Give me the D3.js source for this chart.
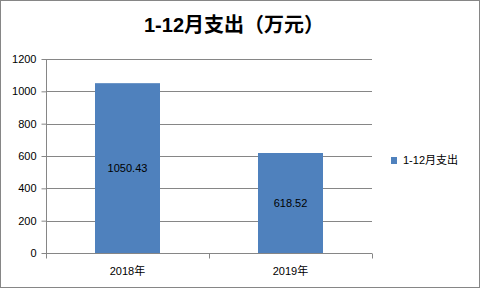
<!DOCTYPE html>
<html>
<head>
<meta charset="utf-8">
<script src="https://cdn.jsdelivr.net/npm/d3@7"></script>
<style>
  body { margin: 0; background: #fff; }
  svg text { font-family: "Liberation Sans", "Noto Sans CJK SC", sans-serif; fill: #000; }
</style>
</head>
<body>
<svg id="chart"></svg>
<script>
var categories = ["2018年", "2019年"];
var values = [1050.43, 618.52];
var yTicks = [0, 200, 400, 600, 800, 1000, 1200];
var seriesName = "1-12月支出";
var title = "1-12月支出（万元）";

var width = 481, height = 289;
var margin = {top: 59, right: 109, bottom: 36, left: 46};
var plotW = width - margin.left - margin.right;
var plotH = height - margin.top - margin.bottom;
var gridColor = "#868686";
var barColor = "#4f81bd";

var svg = d3.select("#chart").attr("width", width).attr("height", height);

// outer border
svg.append("rect")
    .attr("x", 0.5).attr("y", 0.5)
    .attr("width", width - 2).attr("height", height - 2)
    .attr("fill", "#fff").attr("stroke", gridColor);

svg.append("text")
    .attr("x", 234).attr("y", 32)
    .attr("text-anchor", "middle")
    .attr("font-size", "20px").attr("font-weight", "bold")
    .text(title);

var g = svg.append("g")
    .attr("transform", "translate(" + margin.left + "," + margin.top + ")");

var xScale = d3.scaleBand().domain(categories).range([0, plotW]);
var yScale = d3.scaleLinear().domain([0, 1200]).range([plotH, 0]);

// gridlines
g.selectAll(".grid")
    .data(yTicks.slice(1))
    .enter().append("line")
    .attr("class", "grid")
    .attr("x1", 0).attr("x2", plotW)
    .attr("y1", function(d) { return Math.round(yScale(d)) + 0.5; })
    .attr("y2", function(d) { return Math.round(yScale(d)) + 0.5; })
    .attr("stroke", gridColor);

// bars
var barW = 65;
g.selectAll(".bar")
    .data(values)
    .enter().append("rect")
    .attr("class", "bar")
    .attr("x", function(d, i) { return xScale(categories[i]) + xScale.bandwidth() / 2 - barW / 2; })
    .attr("y", function(d) { return yScale(d); })
    .attr("width", barW)
    .attr("height", function(d) { return plotH - yScale(d); })
    .attr("fill", barColor);

g.selectAll(".val")
    .data(values)
    .enter().append("text")
    .attr("class", "val")
    .attr("x", function(d, i) { return xScale(categories[i]) + xScale.bandwidth() / 2; })
    .attr("y", function(d) { return (yScale(d) + plotH) / 2; })
    .attr("dy", "0.35em")
    .attr("text-anchor", "middle")
    .attr("font-size", "11px")
    .text(function(d) { return d.toFixed(2); });

// y axis
var yAxis = d3.axisLeft(yScale).tickValues(yTicks).tickFormat(d3.format("d"))
    .tickSize(5).tickPadding(5);
var yg = g.append("g").attr("transform", "translate(0.5,0)").call(yAxis);
yg.select(".domain").attr("stroke", gridColor).attr("d", "M0,0V" + (plotH + 5));
yg.selectAll(".tick line").attr("stroke", gridColor);
yg.selectAll(".tick text").attr("font-size", "11px")
    .attr("font-family", "Liberation Sans, sans-serif");

// x axis
var xg = g.append("g").attr("transform", "translate(0," + (plotH + 0.5) + ")");
xg.append("line").attr("x1", 0).attr("x2", plotW).attr("stroke", gridColor);
xg.selectAll(".xt")
    .data(d3.range(categories.length + 1))
    .enter().append("line")
    .attr("class", "xt")
    .attr("x1", function(i) { return Math.round(i * xScale.step()) + 0.5; })
    .attr("x2", function(i) { return Math.round(i * xScale.step()) + 0.5; })
    .attr("y1", 0).attr("y2", 5)
    .attr("stroke", gridColor);
xg.selectAll(".xl")
    .data(categories)
    .enter().append("text")
    .attr("class", "xl")
    .attr("x", function(d) { return xScale(d) + xScale.bandwidth() / 2; })
    .attr("y", 18)
    .attr("dy", "0.35em")
    .attr("text-anchor", "middle")
    .attr("font-size", "11px")
    .text(function(d) { return d; });

// legend
var lg = svg.append("g").attr("transform", "translate(391,157)");
lg.append("rect").attr("width", 6).attr("height", 7).attr("fill", barColor);
lg.append("text")
    .attr("x", 12).attr("y", 3.5).attr("dy", "0.35em")
    .attr("font-size", "11px")
    .text(seriesName);
</script>
</body>
</html>
